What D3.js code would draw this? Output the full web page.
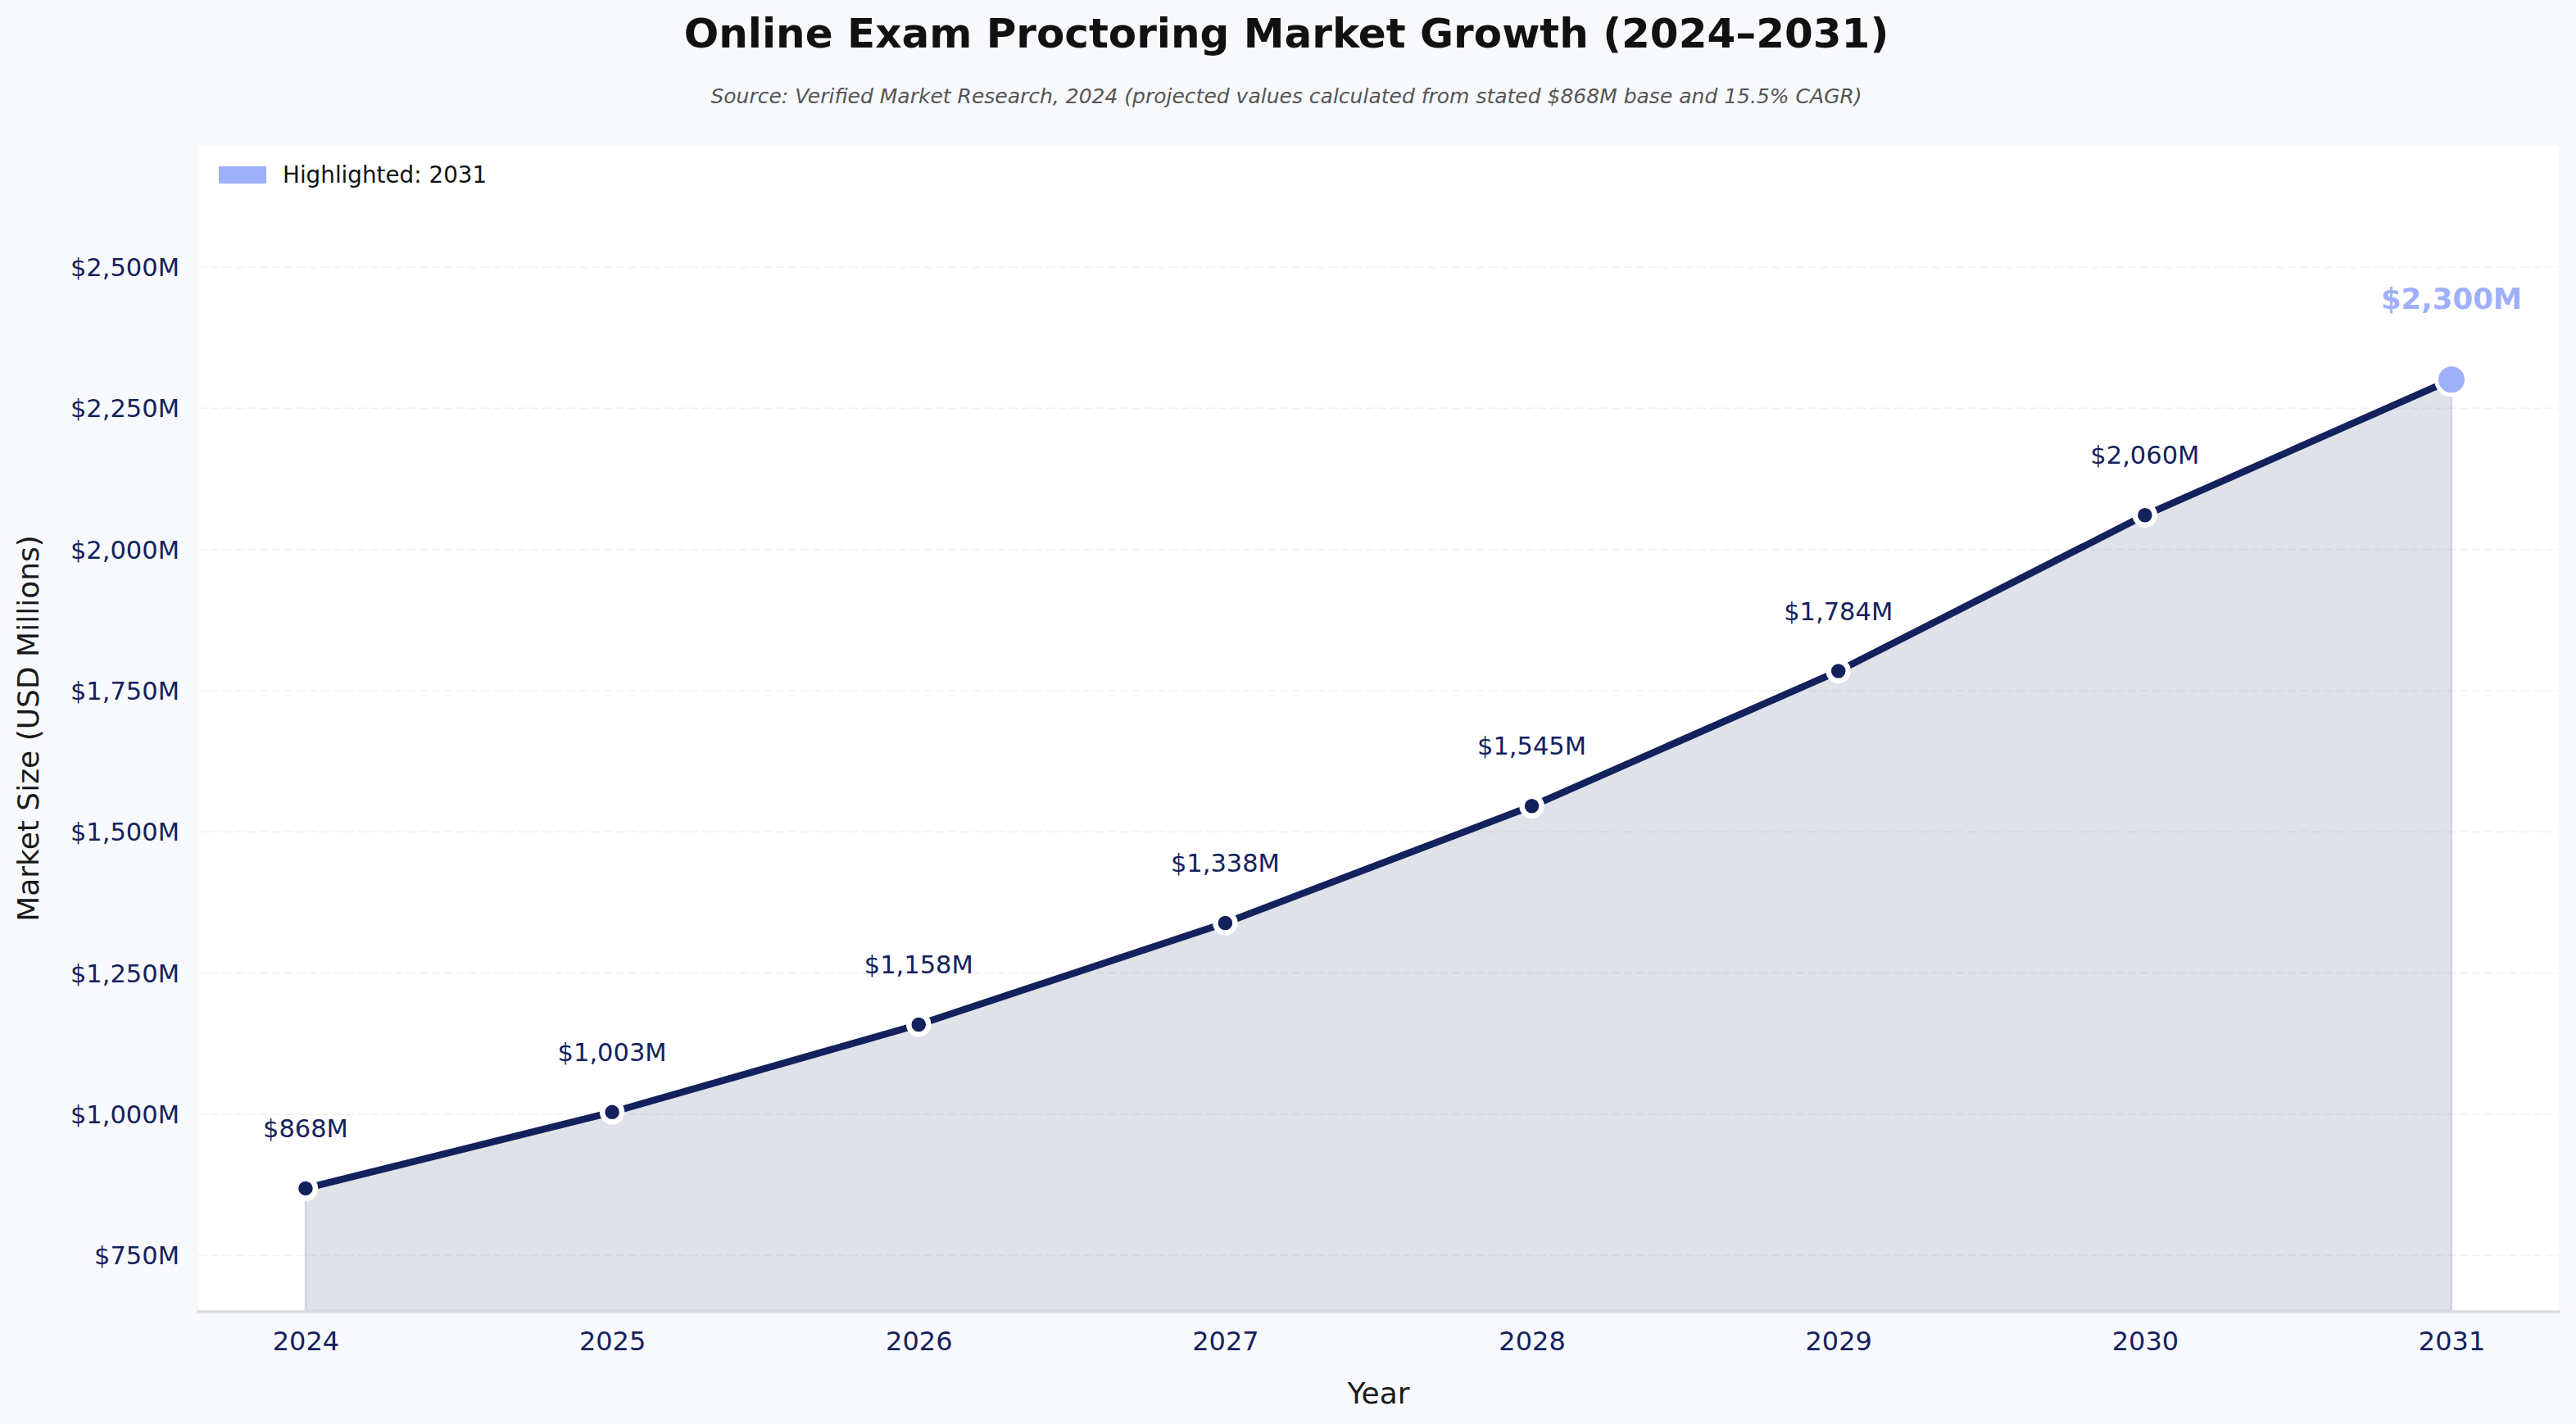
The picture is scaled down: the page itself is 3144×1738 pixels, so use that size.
<!DOCTYPE html>
<html>
<head>
<meta charset="utf-8">
<script src="https://cdn.jsdelivr.net/npm/d3@7"></script>
<style>
  html, body { margin: 0; padding: 0; background: #f7f9fc; }
  svg { display: block; font-family: "DejaVu Sans", sans-serif; }
</style>
</head>
<body>
<svg id="chart" width="3144" height="1738"></svg>
<script>
const years = [2024, 2025, 2026, 2027, 2028, 2029, 2030, 2031];
const values = [868, 1003, 1158, 1338, 1545, 1784, 2060, 2300];
const valueLabels = ["$868M", "$1,003M", "$1,158M", "$1,338M", "$1,545M", "$1,784M", "$2,060M", "$2,300M"];
const yTickValues = [750, 1000, 1250, 1500, 1750, 2000, 2250, 2500];
const yTickLabels = ["$750M", "$1,000M", "$1,250M", "$1,500M", "$1,750M", "$2,000M", "$2,250M", "$2,500M"];
const highlightYear = 2031;

const W = 3144, H = 1738;
const m = { left: 242, right: 3123, top: 178, bottom: 1600 };
const navy = "#13225d";
const hi = "#9fb0fb";

const svg = d3.select("#chart");
svg.append("rect").attr("width", W).attr("height", H).attr("fill", "#f7f9fc");
svg.append("rect").attr("x", m.left).attr("y", m.top)
  .attr("width", m.right - m.left).attr("height", m.bottom - m.top).attr("fill", "#ffffff");

const x = d3.scaleLinear().domain([2023.65, 2031.35]).range([m.left, m.right]);
const y = d3.scaleLinear().domain([651, 2714]).range([m.bottom, m.top]);

// grid
const grid = svg.append("g")
  .attr("transform", `translate(${m.left},0)`)
  .call(d3.axisLeft(y).tickValues(yTickValues).tickSize(-(m.right - m.left)).tickFormat(""));
grid.select(".domain").remove();
grid.selectAll("line").attr("stroke", "#f2f2f4").attr("stroke-width", 1.6).attr("stroke-dasharray", "10,5");

// area
const pts = years.map((yr, i) => ({ yr, v: values[i] }));
const area = d3.area().x(d => x(d.yr)).y0(y(651)).y1(d => y(d.v));
svg.append("path").datum(pts).attr("d", area)
  .attr("fill", navy).attr("fill-opacity", 0.13)
  .attr("stroke", navy).attr("stroke-opacity", 0.13).attr("stroke-width", 2.5);

// bottom spine
svg.append("line").attr("x1", m.left - 2).attr("x2", m.right + 2)
  .attr("y1", m.bottom + 1).attr("y2", m.bottom + 1)
  .attr("stroke", "#dddddd").attr("stroke-width", 3.3);

// line
const line = d3.line().x(d => x(d.yr)).y(d => y(d.v));
svg.append("path").datum(pts).attr("d", line)
  .attr("fill", "none").attr("stroke", navy).attr("stroke-width", 8.5)
  .attr("stroke-linejoin", "round");

// points
svg.append("g").selectAll("circle").data(pts.filter(d => d.yr !== highlightYear)).join("circle")
  .attr("cx", d => x(d.yr)).attr("cy", d => y(d.v)).attr("r", 12)
  .attr("fill", navy).attr("stroke", "#ffffff").attr("stroke-width", 6.5);
svg.append("g").selectAll("circle").data(pts.filter(d => d.yr === highlightYear)).join("circle")
  .attr("cx", d => x(d.yr)).attr("cy", d => y(d.v)).attr("r", 18.5)
  .attr("fill", hi).attr("stroke", "#ffffff").attr("stroke-width", 5);

// value labels
svg.append("g").selectAll("text").data(pts).join("text")
  .attr("x", d => x(d.yr))
  .attr("y", d => d.yr === highlightYear ? y(d.v) - 86 : y(d.v) - 62.5)
  .attr("text-anchor", "middle")
  .attr("font-size", d => d.yr === highlightYear ? 35.5 : 30.5)
  .attr("font-weight", d => d.yr === highlightYear ? "bold" : "normal")
  .attr("fill", d => d.yr === highlightYear ? hi : navy)
  .text((d, i) => valueLabels[i]);

// y axis
const yAxis = svg.append("g").attr("transform", `translate(${m.left},0)`)
  .call(d3.axisLeft(y).tickValues(yTickValues).tickSize(0).tickPadding(23)
    .tickFormat((d, i) => yTickLabels[i]));
yAxis.select(".domain").remove();
yAxis.selectAll("text").attr("font-size", 30.5).attr("fill", navy)
  .attr("font-family", "DejaVu Sans").attr("dy", "0.36em");

// x axis
const xAxis = svg.append("g").attr("transform", `translate(0,${m.bottom})`)
  .call(d3.axisBottom(x).tickValues(years).tickSize(0).tickPadding(25).tickFormat(d3.format("d")));
xAxis.select(".domain").remove();
xAxis.selectAll("text").attr("font-size", 32).attr("fill", navy)
  .attr("font-family", "DejaVu Sans");

// axis titles
svg.append("text").attr("x", (m.left + m.right) / 2).attr("y", 1713)
  .attr("text-anchor", "middle").attr("font-size", 36).attr("fill", "#1a1a1a").text("Year");
svg.append("text").attr("transform", `translate(47,${(m.top + m.bottom) / 2}) rotate(-90)`)
  .attr("text-anchor", "middle").attr("font-size", 36).attr("fill", "#1a1a1a")
  .text("Market Size (USD Millions)");

// title & subtitle
svg.append("text").attr("x", 1570).attr("y", 58).attr("text-anchor", "middle")
  .attr("font-size", 50).attr("font-weight", "bold").attr("fill", "#111111")
  .text("Online Exam Proctoring Market Growth (2024–2031)");
svg.append("text").attr("x", 1570).attr("y", 126).attr("text-anchor", "middle")
  .attr("font-size", 25).attr("font-style", "italic").attr("fill", "#555555")
  .text("Source: Verified Market Research, 2024 (projected values calculated from stated $868M base and 15.5% CAGR)");

// legend
svg.append("rect").attr("x", 267).attr("y", 203).attr("width", 58).attr("height", 21).attr("fill", hi);
svg.append("text").attr("x", 345).attr("y", 223).attr("font-size", 27.8).attr("fill", "#111111")
  .text("Highlighted: " + highlightYear);
</script>
</body>
</html>
